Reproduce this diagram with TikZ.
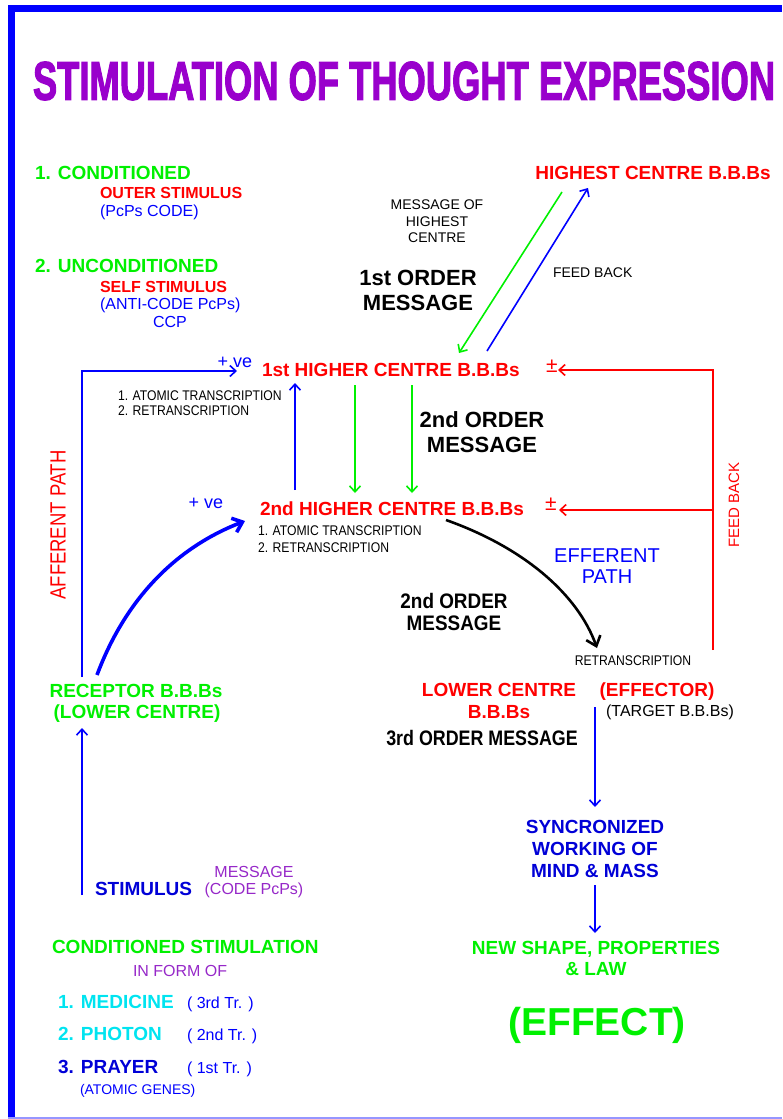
\documentclass[tikz,border=0pt]{standalone}
\usepackage{fontspec}
\usepackage{graphicx}
\setmainfont{Liberation Sans}
\newfontfamily\titlefont[FakeBold=2.5]{Liberation Sans}
\usetikzlibrary{arrows.meta}
\definecolor{mygreen}{RGB}{0,240,0}
\definecolor{myred}{RGB}{255,0,0}
\definecolor{myblue}{RGB}{0,0,255}
\definecolor{dblue}{RGB}{0,0,215}
\definecolor{mycyan}{RGB}{0,228,240}
\definecolor{tpurple}{RGB}{153,0,204}
\definecolor{lpurple}{RGB}{150,40,200}
\definecolor{lborder}{RGB}{150,150,255}
\newcommand\fsz[2]{\fontsize{#1}{#2}\selectfont}
\newcommand\cond[1]{\scalebox{0.87}[1]{#1}}
\tikzset{
  lbl/.style={inner sep=0pt, outer sep=0pt},
  lw/.style={lbl, anchor=base west},
  lc/.style={lbl, anchor=base},
  hd/.style={font=\fsz{19}{22}\bfseries},
  sm/.style={font=\fsz{16}{19}},
  bk/.style={font=\fsz{22}{25}\bfseries},
  tiny/.style={font=\fsz{14}{16}},
  pm/.style={lbl, text=myred, font=\fsz{21}{23}},
  arr/.style={-{Straight Barb[length=6pt,width=11pt]}, line width=1.6pt},
  bigarr/.style={-{Straight Barb[length=9pt,width=15pt]}},
}
\begin{document}
\begin{tikzpicture}[x=1pt,y=-1pt]
\useasboundingbox (0,0) rectangle (782,1119);
% border
\draw[myblue, line width=7pt] (8,8.5) -- (782,8.5);
\draw[myblue, line width=7pt] (11.5,5) -- (11.5,1119);
\draw[lborder, line width=1.6pt] (8,1118.2) -- (782,1118.2);
% title
\node[lbl, text=tpurple] (title) at (404,81) {\resizebox{742pt}{38pt}{\titlefont\bfseries STIMULATION OF THOUGHT EXPRESSION}};
% top left
\node[lw, hd, text=mygreen] (c1) at (35,179) {1. CONDITIONED};
\node[lw, font=\fsz{16}{19}\bfseries, text=myred] (outer) at (100,198) {OUTER STIMULUS};
\node[lw, sm, text=myblue] (pcps) at (100,216) {(PcPs CODE)};
\node[lw, hd, text=mygreen] (c2) at (35,272) {2. UNCONDITIONED};
\node[lw, font=\fsz{16}{19}\bfseries, text=myred] (self) at (100,292) {SELF STIMULUS};
\node[lw, sm, text=myblue] (anti) at (100,309) {(ANTI-CODE PcPs)};
\node[lc, sm, text=myblue] (ccp) at (170,327) {CCP};
% top right
\node[lc, hd, text=myred] (highest) at (653,179) {HIGHEST CENTRE B.B.Bs};
\node[lc, tiny] (mo1) at (437,209) {MESSAGE OF};
\node[lc, tiny] (mo2) at (437,226) {HIGHEST};
\node[lc, tiny] (mo3) at (437,242) {CENTRE};
\node[lc, bk] (o1a) at (418,285) {1st ORDER};
\node[lc, bk] (o1b) at (418,310) {MESSAGE};
\node[lw, tiny] (fb1) at (553,277) {FEED BACK};
% 1st higher centre
\node[lw, hd, text=myred] (h1) at (262,376) {1st HIGHER CENTRE B.B.Bs};
\node[lc, font=\fsz{18}{20}, text=myblue] (pve1) at (235,367) {+ ve};
\node[lw, tiny] (at1a) at (118,400) {\cond{1. ATOMIC TRANSCRIPTION}};
\node[lw, tiny] (at1b) at (118,415) {\cond{2. RETRANSCRIPTION}};
\node[pm] (pm1) at (552,366) {±};
% 2nd order message upper
\node[lc, bk] (o2a) at (482,427) {2nd ORDER};
\node[lc, bk] (o2b) at (482,452) {MESSAGE};
% 2nd higher centre
\node[lw, hd, text=myred] (h2) at (260,515) {2nd HIGHER CENTRE B.B.Bs};
\node[lc, font=\fsz{18}{20}, text=myblue] (pve2) at (206,508) {+ ve};
\node[lw, tiny] (at2a) at (258,535) {\cond{1. ATOMIC TRANSCRIPTION}};
\node[lw, tiny] (at2b) at (258,552) {\cond{2. RETRANSCRIPTION}};
\node[pm] (pm2) at (551,504) {±};
\node[lbl, font=\fsz{15}{17}, text=myred, rotate=90] (fb2) at (734,505) {FEED BACK};
\node[lc, font=\fsz{20}{22}, text=myblue] (ef1) at (607,562) {EFFERENT};
\node[lc, font=\fsz{20}{22}, text=myblue] (ef2) at (607,583) {PATH};
\node[lc, font=\fsz{21}{23}\bfseries] (o2c) at (454,608) {\scalebox{0.9}[1]{2nd ORDER}};
\node[lc, font=\fsz{21}{23}\bfseries] (o2d) at (454,630) {\scalebox{0.9}[1]{MESSAGE}};
\node[lc, tiny] (retr) at (633,665) {\cond{RETRANSCRIPTION}};
% lower centre
\node[lc, hd, text=myred] (lc1) at (499,696) {LOWER CENTRE};
\node[lc, hd, text=myred] (lc2) at (499,718) {B.B.Bs};
\node[lc, hd, text=myred] (eff) at (657,696) {(EFFECTOR)};
\node[lc, sm] (target) at (670,716) {(TARGET B.B.Bs)};
\node[lc, font=\fsz{21}{23}\bfseries] (o3) at (482,745) {\scalebox{0.85}[1]{3rd ORDER MESSAGE}};
\node[lc, hd, text=dblue] (s1) at (595,833) {SYNCRONIZED};
\node[lc, hd, text=dblue] (s2) at (595,855) {WORKING OF};
\node[lc, hd, text=dblue] (s3) at (595,877) {MIND \& MASS};
\node[lc, hd, text=mygreen] (ns1) at (596,954) {NEW SHAPE, PROPERTIES};
\node[lc, hd, text=mygreen] (ns2) at (596,975) {\& LAW};
\node[lc, font=\fsz{39}{42}\bfseries, text=mygreen] (effect) at (597,1035) {(EFFECT)};
% left side
\node[lbl, text=myred, rotate=90] (aff) at (58,525) {\fsz{22}{24}\scalebox{0.84}[1]{AFFERENT PATH}};
\node[lc, hd, text=mygreen] (rec1) at (136,697) {RECEPTOR B.B.Bs};
\node[lc, hd, text=mygreen] (rec2) at (137,718) {(LOWER CENTRE)};
\node[lw, hd, text=dblue] (stim) at (95,895) {STIMULUS};
\node[lc, sm, text=lpurple] (msg) at (254,877) {MESSAGE};
\node[lc, sm, text=lpurple] (code) at (254,894) {(CODE PcPs)};
\node[lw, hd, text=mygreen] (cs) at (52,953) {CONDITIONED STIMULATION};
\node[lw, sm, text=lpurple] (inf) at (133,976) {IN FORM OF};
\node[lw, hd, text=mycyan] (med) at (58,1008) {1. MEDICINE};
\node[lw, sm, text=myblue] (tr3) at (187,1008) {( 3rd Tr. )};
\node[lw, hd, text=mycyan] (pho) at (58,1040) {2. PHOTON};
\node[lw, sm, text=myblue] (tr2) at (187,1040) {( 2nd Tr. )};
\node[lw, hd, text=dblue] (pra) at (58,1073) {3. PRAYER};
\node[lw, sm, text=myblue] (tr1) at (187,1073) {( 1st Tr. )};
\node[lw, tiny, text=myblue] (gen) at (80,1094) {(ATOMIC GENES)};
% connector end points
\coordinate (g1s) at (562,192); \coordinate (g1e) at (459,353);
\coordinate (b1s) at (487,351); \coordinate (b1e) at (588,188);
\coordinate (afs) at (82,677); \coordinate (afc) at (82,371); \coordinate (afe) at (237,371);
\coordinate (bus) at (295,490); \coordinate (bue) at (295,383);
\coordinate (gds1) at (355,385); \coordinate (gde1) at (355,493);
\coordinate (gds2) at (412,385); \coordinate (gde2) at (412,493);
\coordinate (bcs) at (97,675); \coordinate (bce) at (245,521);
\coordinate (kcs) at (446,520); \coordinate (kce) at (597,648);
\coordinate (rfs) at (713,650); \coordinate (rfc) at (713,370); \coordinate (rfe) at (558,370);
\coordinate (rf2s) at (713,510); \coordinate (rf2e) at (559,510);
\coordinate (sts) at (82,895); \coordinate (ste) at (82,728);
\coordinate (efs) at (595,707); \coordinate (efe) at (595,807);
\coordinate (sys) at (595,885); \coordinate (sye) at (595,933);
% connectors
\draw[arr, mygreen] (g1s) -- (g1e);
\draw[arr, myblue] (b1s) -- (b1e);
\draw[arr, myblue] (afs) -- (afc) -- (afe);
\draw[arr, myblue] (bus) -- (bue);
\draw[arr, mygreen] (gds1) -- (gde1);
\draw[arr, mygreen] (gds2) -- (gde2);
\draw[bigarr, myblue, line width=3.6pt] (bcs) .. controls (125,600) and (175,548) .. (bce);
\draw[bigarr, black, line width=2.6pt] (kcs) .. controls (525,548) and (578,595) .. (kce);
\draw[arr, myred] (rfs) -- (rfc) -- (rfe);
\draw[arr, myred] (rf2s) -- (rf2e);
\draw[arr, myblue] (sts) -- (ste);
\draw[arr, myblue] (efs) -- (efe);
\draw[arr, myblue] (sys) -- (sye);
\end{tikzpicture}
\end{document}
